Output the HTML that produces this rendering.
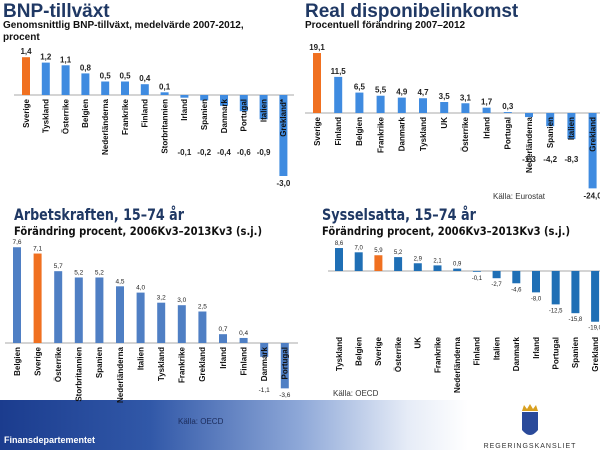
<!DOCTYPE html>
<html><head><meta charset="utf-8">
<style>
html,body{margin:0;padding:0;background:#fff;}
body{width:600px;height:450px;overflow:hidden;position:relative;font-family:"Liberation Sans",sans-serif;}
#band{position:absolute;left:0;top:400px;width:600px;height:50px;background:linear-gradient(to right,#1b3c8e 0%,#3158a8 25%,#8ea8d8 50%,#e6ecf7 68%,#fff 78%);}
svg{position:absolute;left:0;top:0;}
</style></head>
<body>
<div id="band"></div>
<svg id="chart" width="600" height="450">
  <text x="3" y="17" font-size="19" font-weight="bold" fill="#1f3864">BNP-tillväxt</text>
  <text x="3" y="28" font-size="10" font-weight="bold" fill="#111">Genomsnittlig BNP-tillväxt, medelvärde 2007-2012,</text>
  <text x="3" y="40" font-size="10" font-weight="bold" fill="#111">procent</text>
  <text x="305" y="17" font-size="19" font-weight="bold" fill="#1f3864">Real disponibelinkomst</text>
  <text x="305" y="28" font-size="10" font-weight="bold" fill="#111">Procentuell förändring 2007–2012</text>
  <text x="493" y="199" font-size="8" fill="#333">Källa: Eurostat</text>
  <text x="14" y="220" font-size="16" font-weight="bold" fill="#1f3864" font-family="DejaVu Sans, sans-serif" textLength="170" lengthAdjust="spacingAndGlyphs">Arbetskraften, 15–74 år</text>
  <text x="14" y="235" font-size="11.5" font-weight="bold" fill="#111" font-family="DejaVu Sans, sans-serif" textLength="248" lengthAdjust="spacingAndGlyphs">Förändring procent, 2006Kv3–2013Kv3 (s.j.)</text>
  <text x="322" y="220" font-size="16" font-weight="bold" fill="#1f3864" font-family="DejaVu Sans, sans-serif" textLength="154" lengthAdjust="spacingAndGlyphs">Sysselsatta, 15–74 år</text>
  <text x="322" y="235" font-size="11.5" font-weight="bold" fill="#111" font-family="DejaVu Sans, sans-serif" textLength="248" lengthAdjust="spacingAndGlyphs">Förändring procent, 2006Kv3–2013Kv3 (s.j.)</text>
  <text x="333" y="396" font-size="8" fill="#333">Källa: OECD</text>
  <text x="178" y="424" font-size="8" fill="#1b2b5a">Källa: OECD</text>
  <text x="4" y="443" font-size="9" font-weight="bold" fill="#fff">Finansdepartementet</text>
  <g>
    <path d="M522,412 L538,412 L538,430 Q530,440 522,430 Z" fill="#2a4a9a"/>
    <path d="M522,411 L524,405 L527,409 L530,404 L533,409 L536,405 L538,411 Z" fill="#d8a020"/>
    <text x="530" y="448" font-size="7" text-anchor="middle" fill="#333" letter-spacing="1">REGERINGSKANSLIET</text>
  </g>
</svg>
<script>
const bnpCategories=["Sverige","Tyskland","Österrike","Belgien","Nederländerna","Frankrike","Finland","Storbritannien","Irland","Spanien","Danmark","Portugal","Italien","Grekland*"];
const bnpValues=[1.4,1.2,1.1,0.8,0.5,0.5,0.4,0.1,-0.1,-0.2,-0.4,-0.6,-0.9,-3.0];
const bnpLabels=["1,4","1,2","1,1","0,8","0,5","0,5","0,4","0,1","-0,1","-0,2","-0,4","-0,6","-0,9","-3,0"];
const incCategories=["Sverige","Finland","Belgien","Frankrike","Danmark","Tyskland","UK","Österrike","Irland","Portugal","Nederländerna","Spanien","Italien","Grekland"];
const incValues=[19.1,11.5,6.5,5.5,4.9,4.7,3.5,3.1,1.7,0.3,-1.3,-4.2,-8.3,-24.0];
const incLabels=["19,1","11,5","6,5","5,5","4,9","4,7","3,5","3,1","1,7","0,3","-1,3","-4,2","-8,3","-24,0"];
const labCategories=["Belgien","Sverige","Österrike","Storbritannien","Spanien","Nederländerna","Italien","Tyskland","Frankrike","Grekland","Irland","Finland","Danmark","Portugal"];
const labValues=[7.6,7.1,5.7,5.2,5.2,4.5,4.0,3.2,3.0,2.5,0.7,0.4,-1.1,-3.6];
const labLabels=["7,6","7,1","5,7","5,2","5,2","4,5","4,0","3,2","3,0","2,5","0,7","0,4","-1,1","-3,6"];
const empCategories=["Tyskland","Belgien","Sverige","Österrike","UK","Frankrike","Nederländerna","Finland","Italien","Danmark","Irland","Portugal","Spanien","Grekland"];
const empValues=[8.6,7.0,5.9,5.2,2.9,2.1,0.9,-0.1,-2.7,-4.6,-8.0,-12.5,-15.8,-19.0];
const empLabels=["8,6","7,0","5,9","5,2","2,9","2,1","0,9","-0,1","-2,7","-4,6","-8,0","-12,5","-15,8","-19,0"];

const NS="http://www.w3.org/2000/svg";
const svg=document.getElementById('chart');
function mk(tag,attrs){const e=document.createElementNS(NS,tag);for(const k in attrs)e.setAttribute(k,attrs[k]);return e;}

function drawChart(cfg,cats,vals,labels){
  const g=mk('g',{});
  
  
  svg.appendChild(g);
  const xPos=i=>cfg.x0+i*cfg.step;
  const yPos=v=>cfg.base-v*cfg.scale;
  const axis=mk('line',{x1:cfg.axisX1,x2:cfg.axisX2,y1:cfg.base,y2:cfg.base,stroke:'#aaa','stroke-width':1});
  
  
  g.appendChild(axis);
  cats.forEach((c,i)=>{
    const v=vals[i],x=xPos(i);
    const y1=Math.min(yPos(v),cfg.base),y2=Math.max(yPos(v),cfg.base);
    const r=mk('rect',{x:x-cfg.bw/2,y:y1,width:cfg.bw,height:Math.max(y2-y1,0.8),fill:i===cfg.hi?'#f07020':cfg.color});
    
    
    g.appendChild(r);
    let ly=v>=0?yPos(v)-3:Math.max(yPos(v)+cfg.vfs+2,cfg.negFloor);
    const t=mk('text',{x:x,y:ly,'font-size':cfg.vfs,'font-weight':cfg.vbold,'text-anchor':'middle',fill:'#222'});
    t.textContent=labels[i];
    
    
    g.appendChild(t);
    const ct=mk('text',{x:0,y:0,'font-size':cfg.cfs,'font-weight':'bold','text-anchor':'end',fill:'#111',transform:'translate('+(x+cfg.cfs*0.35)+','+cfg.catTop+') rotate(-90)'});
    ct.textContent=c;
    
    
    g.appendChild(ct);
  });
}
drawChart({name:'bnp-chart',x0:26,step:19.8,base:95,scale:27,bw:8,color:'#3f8be0',hi:0,vfs:8,vbold:'bold',negFloor:155,cfs:8,catTop:99,axisX1:14,axisX2:294},bnpCategories,bnpValues,bnpLabels);
drawChart({name:'income-chart',x0:317,step:21.2,base:113,scale:3.14,bw:8,color:'#3f8be0',hi:0,vfs:8,vbold:'bold',negFloor:162,cfs:8,catTop:117,axisX1:305,axisX2:600},incCategories,incValues,incLabels);
drawChart({name:'labour-chart',x0:17,step:20.6,base:343,scale:12.6,bw:8,color:'#4f7fc4',hi:1,vfs:6.5,vbold:'normal',negFloor:392,cfs:8,catTop:347,axisX1:5,axisX2:298},labCategories,labValues,labLabels);
drawChart({name:'employed-chart',x0:339,step:19.7,base:271,scale:2.67,bw:8,color:'#1f6fb5',hi:2,vfs:6,vbold:'normal',negFloor:280,cfs:8,catTop:337,axisX1:328,axisX2:600},empCategories,empValues,empLabels);
</script>
</body></html>
